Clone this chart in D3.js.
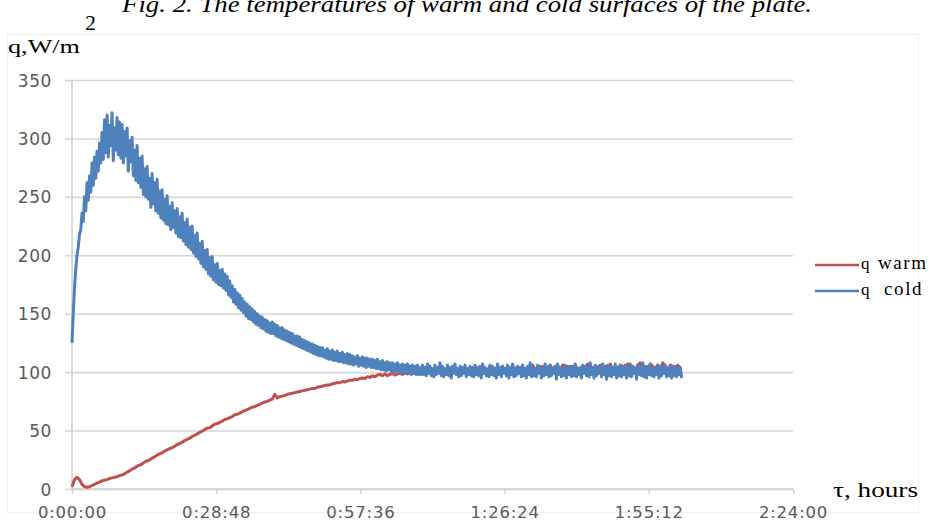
<!DOCTYPE html>
<html>
<head>
<meta charset="utf-8">
<script src="https://cdn.jsdelivr.net/npm/d3@7"></script>
<style>
  html, body { margin: 0; padding: 0; background: #fff; }
  svg { display: block; }
</style>
</head>
<body>
<svg id="chart" width="936" height="522"></svg>
<script>
// ---------------- DATA ----------------
const xTickMinutes = [0, 28.8, 57.6, 86.4, 115.2, 144];
const xTickLabels = ["0:00:00", "0:28:48", "0:57:36", "1:26:24", "1:55:12", "2:24:00"];
const yTickValues = [0, 50, 100, 150, 200, 250, 300, 350];
const seriesNames = ["q warm", "q cold"];
const warmStepMinutes = 0.5;   // warm readings every 30 s from 0:00:00
const coldStepMinutes = 0.25;  // cold readings every 15 s from 0:00:00

// heat flux on the warm surface, W/m2
const qWarm = [
  2,8,10,8,4,2,1.5,2,3,4,5,6,7,7.5,8,9,9.5,10,10.5,11.5,
  12,13,14.5,15.5,17,18,19.5,20.5,21.5,23,24,25,26.5,27.5,29,30,31,32.5,33.5,34.5,
  35.5,36.5,38,39,40,41.5,42.5,43.5,45,46,47,48.5,49.5,51,52,52.5,54,55.5,56,57,
  58,59.5,60,61,62,63.5,64,65,66,67,68,69,70,70.5,71.5,72.5,73.5,74.5,75,76,
  77,81,78,79,79.5,80,81,81.5,82,82.5,83,83.5,84,84.5,85,85.5,86,86,87,87.5,
  88,88.5,89,89,90,90.5,91,91,92,91.5,92.5,93,93,94,93.5,94.5,95,94.5,96,95.5,
  97,96,97.5,98,97,98.5,97,98,99,97.5,98.5,99,98,99.5,98.5,99,100,99,100,99.5,
  100,99,100.5,99.5,100,101,100,99.5,101,100,101.5,100,102,101,100.5,102,101,103,101.5,102,
  102,101,104,102,101.5,103,102,105,101,103,104,101,105,102,104,101.5,105,103,104,102,
  105,102,104,101,106,102,104,102,105,101,104,106,102,105,103,101.5,106,102,104,105,
  102,106,103,101,105,103,107,103,102,105,104,106,102,105,103,107,102,105,103,106,
  105,102,107,103,105,102,106,108,103,105,102,107,105,103,106,102,108,104,103,106,
  105,102,106,103
];

// heat flux on the cold surface, W/m2
const qCold = [
  125,150,172,188,200,207,218,222,236,229,250,238,262,247,268,254,279,260,284,266,
  289,272,296,279,305,282,316,288,320,284,311,294,322,281,309,290,318,286,314,283,
  312,279,306,285,309,272,298,280,301,268,290,264,294,262,283,258,285,252,274,250,
  276,248,266,241,270,244,262,238,265,236,255,232,256,230,248,227,251,226,242,222,
  245,224,238,219,240,216,233,215,236,212,228,209,231,207,224,205,225,202,217,199,
  219,197,210,193,212,190,204,188,205,184,198,182,199,179,192,177,193,175,187,174,
  188,172,184,170,182,166,178,164,174,160,171,158,168,155,166,153,163,151,160,148,
  158,146,156,145,154,143,152,141,150,140,148,138,147,137,145,135,144,134,142,133,
  143,133,141,131,140,130,138,129,138,128,136,127,135,126,134,125,133,124,131,123,
  131,122,130,121,128,120,127,119,126,118,125,117,124,116,123,115,122,114,121,114,
  121,113,119,112,120,111,118,111,119,110,117,110,118,109,116,109,117,108,115,108,
  116,107,115,107,114,106,113,107,114,105,112,106,113,105,112,104,112,105,111,104,
  111,104,110,103,111,103,109,102,110,102,108,101,109,102,108,101,108,100,107,101,
  108,100,106,99,107,100,106,99,107,99,105,98,106,99,105,98,106,98,104,98,
  106,98,104,97,107,99,105,97,103,96,106,98,104,99,108,97,105,96,103,98,
  106,97,104,95,105,99,107,98,103,96,105,97,104,99,106,96,103,98,105,97,
  104,96,106,98,103,97,105,95,107,99,104,97,102,96,106,98,105,97,103,95,
  107,98,104,96,105,99,103,97,106,95,104,98,107,96,103,97,105,99,104,96,
  106,97,103,95,105,98,108,96,104,97,102,96,106,99,105,95,103,97,107,98,
  104,96,106,97,103,99,105,94,107,98,104,96,102,97,106,95,105,98,103,96,
  105,97,107,96,103,98,104,95,106,99,105,97,103,96,108,98,104,95,106,97,
  103,99,105,96,107,98,104,94,106,97,105,96,103,98,107,95,104,97,106,96,
  104,98,106,95,103,97,107,96,105,99,103,94,106,98,104,97,108,96,103,95,
  105,98,107,97,104,96,102,98,106,95,105,97,104,99,106,96,103,97,105,95,
  104,97,105,96,103,98,104,95
];

const colors = ["#C0504D", "#4F81BD"];

// ---------------- CHART ----------------
const svg = d3.select("#chart");
const serif = "'Liberation Serif', 'Times New Roman', serif";
const sans = "'DejaVu Sans', Verdana, sans-serif";

// faint outer chart frame
svg.append("rect")
  .attr("x", 7.5).attr("y", 34.5).attr("width", 911).attr("height", 478)
  .attr("fill", "none").attr("stroke", "#efefef").attr("stroke-width", 1);

const x = d3.scaleLinear().domain([0, 144]).range([72, 793]);
const y = d3.scaleLinear().domain([0, 350]).range([489, 80]);

// y gridlines + labels
const yAxis = d3.axisLeft(y)
  .tickValues(yTickValues)
  .tickSize(-(793 - 65))
  .tickPadding(13)
  .tickFormat(d3.format("d"));
const gy = svg.append("g").attr("transform", "translate(65,0)").call(yAxis);
gy.select(".domain").remove();
gy.selectAll(".tick line").attr("stroke", "#d6d6d6").attr("stroke-width", 1.6);
gy.selectAll(".tick text")
  .attr("fill", "#595959")
  .style("font-family", sans).style("font-size", "17px").style("letter-spacing", "0.6px")
  .attr("dy", "0.36em");

// vertical axis line
svg.append("line")
  .attr("x1", x(0)).attr("x2", x(0)).attr("y1", y(350)).attr("y2", y(0))
  .attr("stroke", "#cfcfcf").attr("stroke-width", 1.6);

// x axis
const xAxis = d3.axisBottom(x)
  .tickValues(xTickMinutes)
  .tickSize(5)
  .tickPadding(12)
  .tickFormat((d, i) => xTickLabels[i]);
const gx = svg.append("g").attr("transform", `translate(0,${y(0)})`).call(xAxis);
gx.select(".domain").attr("stroke", "#cfcfcf").attr("stroke-width", 1.6)
  .attr("d", `M${x(0)},0H${x(144)}`);
gx.selectAll(".tick line").attr("stroke", "#cfcfcf").attr("stroke-width", 1.4);
gx.selectAll(".tick text")
  .attr("fill", "#595959")
  .style("font-family", sans).style("font-size", "16.5px").style("letter-spacing", "0.8px");

// series
const steps = [warmStepMinutes, coldStepMinutes];
const widths = [3, 3];
[qWarm, qCold].forEach((s, k) => {
  const line = d3.line()
    .x((d, i) => x(i * steps[k]))
    .y(d => y(d));
  svg.append("path")
    .datum(s)
    .attr("fill", "none")
    .attr("stroke", colors[k])
    .attr("stroke-width", widths[k])
    .attr("stroke-linejoin", "round")
    .attr("d", line);
});

// title (partly cut off at the top, as in the source figure)
svg.append("text")
  .attr("x", 467).attr("y", 12)
  .attr("text-anchor", "middle")
  .attr("textLength", 690).attr("lengthAdjust", "spacingAndGlyphs")
  .style("font-family", serif).style("font-style", "italic").style("font-size", "23px")
  .text("Fig. 2. The temperatures of warm and cold surfaces of the plate.");

// y axis title
svg.append("text")
  .attr("x", 8).attr("y", 53)
  .style("font-family", serif).style("font-size", "19px")
  .attr("textLength", 72).attr("lengthAdjust", "spacingAndGlyphs")
  .text("q,W/m");
svg.append("text")
  .attr("x", 85).attr("y", 30)
  .style("font-family", serif).style("font-size", "22px")
  .text("2");

// x axis title
svg.append("text")
  .attr("x", 833).attr("y", 497)
  .style("font-family", serif).style("font-size", "21px")
  .attr("textLength", 85).attr("lengthAdjust", "spacingAndGlyphs")
  .text("τ, hours");

// legend
const legendY = [265, 291];
seriesNames.forEach((name, k) => {
  svg.append("line")
    .attr("x1", 815).attr("x2", 859)
    .attr("y1", legendY[k]).attr("y2", legendY[k])
    .attr("stroke", colors[k]).attr("stroke-width", 2.6);
  const t = svg.append("text")
    .attr("x", 861).attr("y", legendY[k] + 4)
    .style("font-family", serif).style("font-size", "17px");
  t.append("tspan").text(name.split(" ")[0]);
  t.append("tspan").attr("x", k === 0 ? 878 : 884)
    .style("font-size", "19px").style("letter-spacing", "1.6px")
    .text(name.split(" ")[1]);
});
</script>
</body>
</html>
